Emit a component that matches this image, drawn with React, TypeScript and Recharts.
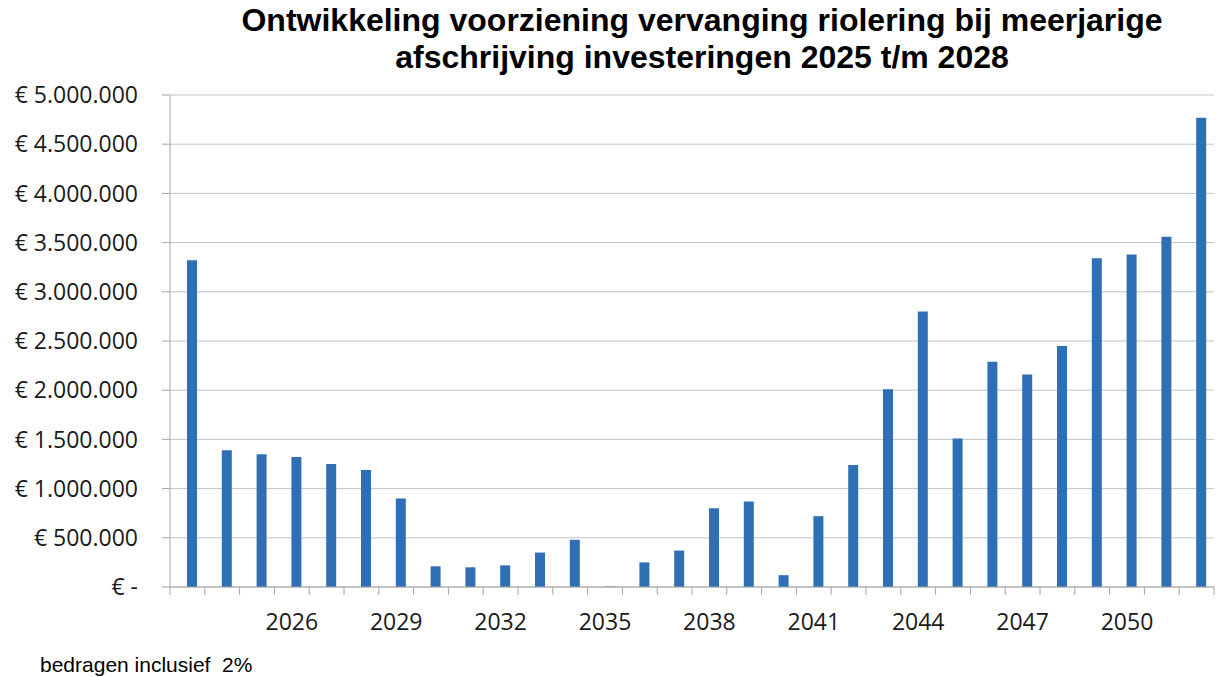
import React from "react";
import { BarChart, Bar, XAxis, YAxis, CartesianGrid } from "recharts";

const years = [
  "2023", "2024", "2025", "2026", "2027", "2028", "2029", "2030", "2031", "2032",
  "2033", "2034", "2035", "2036", "2037", "2038", "2039", "2040", "2041", "2042",
  "2043", "2044", "2045", "2046", "2047", "2048", "2049", "2050", "2051", "2052",
];

const voorziening = [
  3320000, 1390000, 1350000, 1320000, 1250000, 1190000, 900000, 210000, 200000, 220000,
  350000, 480000, 5000, 250000, 370000, 800000, 870000, 120000, 720000, 1240000,
  2010000, 2800000, 1510000, 2290000, 2160000, 2450000, 3340000, 3380000, 3560000, 4770000,
];

const onttrekking = [
  0, 0, 0, 0, 0, 0, 0, 0, 0, 0,
  0, 0, 0, 0, 0, 0, 0, 0, 0, 0,
  0, 0, 0, 0, 0, 0, 0, 0, 0, 0,
];

const shownYears = ["2026", "2029", "2032", "2035", "2038", "2041", "2044", "2047", "2050"];
const yTicks = [0, 500000, 1000000, 1500000, 2000000, 2500000, 3000000, 3500000, 4000000, 4500000, 5000000];

const data = years.map((year, i) => ({
  year,
  onttrekking: onttrekking[i],
  voorziening: voorziening[i],
}));

const euro = (v: number) =>
  v === 0 ? "€ -" : "€ " + String(v).replace(/\B(?=(\d{3})+(?!\d))/g, ".");

const axisFont = "'Open Sans', 'Noto Sans', sans-serif";

function YearTick(props: any) {
  const { x, y, payload, index } = props;
  const half = payload && payload.offset ? payload.offset : 17.4;
  const label = payload.value as string;
  return (
    <g>
      <line x1={x - half} x2={x - half} y1={y} y2={y + 8} stroke="#a6a6a6" />
      {index === years.length - 1 && (
        <line x1={x + half} x2={x + half} y1={y} y2={y + 8} stroke="#a6a6a6" />
      )}
      {shownYears.includes(label) && (
        <text x={x} y={y + 43} textAnchor="middle" fontSize={23} fontFamily={axisFont} fill="#1a1a1a">
          {label}
        </text>
      )}
    </g>
  );
}

export default function App(): JSX.Element {
  return (
    <div style={{ position: "relative", width: 1217, height: 677, background: "#fff", overflow: "hidden" }}>
      <style>{`body{margin:0}`}</style>
      <div
        style={{
          position: "absolute",
          left: 0,
          top: 2,
          width: 1404,
          textAlign: "center",
          fontFamily: "'Liberation Sans', Arial, sans-serif",
          fontWeight: "bold",
          fontSize: 32,
          lineHeight: "37px",
          color: "#000",
        }}
      >
        Ontwikkeling voorziening vervanging riolering bij meerjarige
        <br />
        afschrijving investeringen 2025 t/m 2028
      </div>
      <BarChart
        width={1217}
        height={677}
        data={data}
        margin={{ top: 95, right: 3, left: 10, bottom: 40 }}
        barSize={10}
        barGap={0}
      >
        <CartesianGrid vertical={false} stroke="#c4c4c4" />
        <XAxis
          dataKey="year"
          interval={0}
          height={50}
          tickLine={false}
          tickSize={0}
          tickMargin={0}
          tick={<YearTick />}
          stroke="#a6a6a6"
        />
        <YAxis
          width={160}
          domain={[0, 5000000]}
          ticks={yTicks}
          interval={0}
          tickFormatter={euro}
          tickSize={8}
          tickMargin={24}
          stroke="#a6a6a6"
          tick={{ fontSize: 23, fontFamily: axisFont, fill: "#1a1a1a" }}
        />
        <Bar dataKey="onttrekking" fill="#c0504d" isAnimationActive={false} />
        <Bar dataKey="voorziening" fill="#2f6fb6" isAnimationActive={false} />
      </BarChart>
      <div
        style={{
          position: "absolute",
          left: 40,
          top: 653,
          fontFamily: "'Liberation Sans', Arial, sans-serif",
          fontSize: 21,
          color: "#000",
          whiteSpace: "pre",
        }}
      >
        bedragen inclusief  2%
      </div>
    </div>
  );
}
